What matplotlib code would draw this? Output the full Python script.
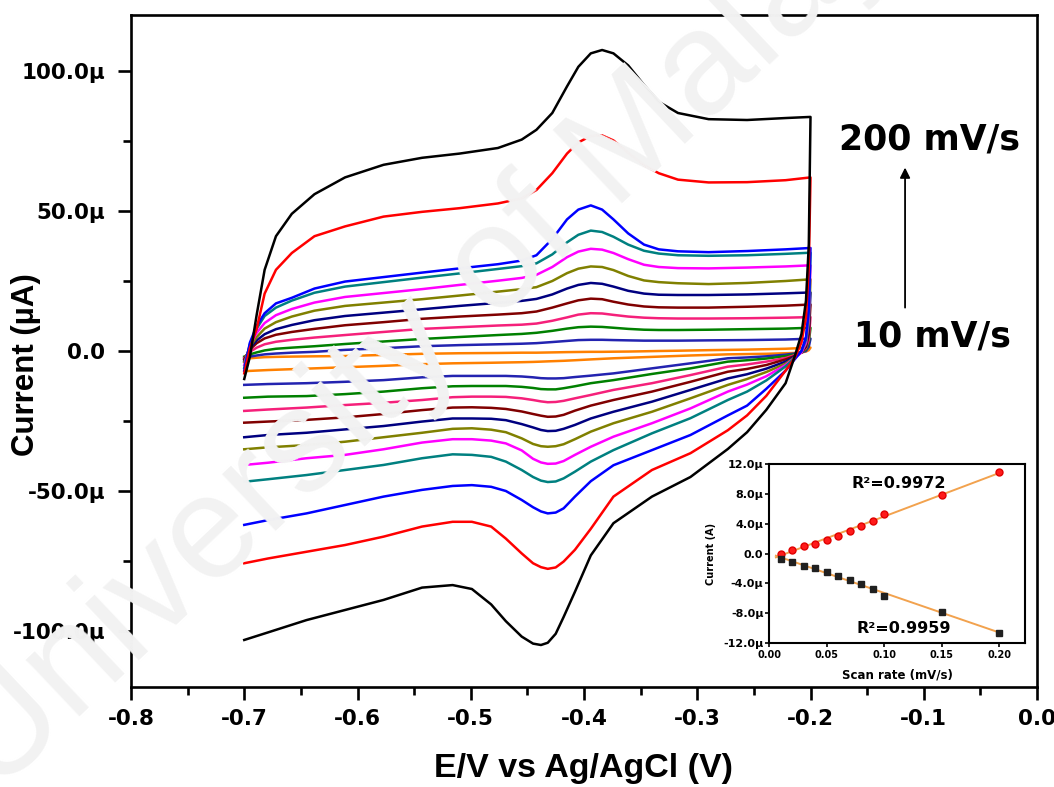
import numpy as np
import matplotlib
matplotlib.use("Agg")
import matplotlib.pyplot as plt
from matplotlib.ticker import MultipleLocator, FuncFormatter, FixedLocator

plt.rcParams["font.family"] = "DejaVu Sans"
plt.rcParams["font.weight"] = "bold"
plt.rcParams["axes.unicode_minus"] = False

# ---- cyclic voltammograms: potential grids (V) and currents (uA) ----
E_FWD = [-0.700, -0.695, -0.689, -0.682, -0.672, -0.658, -0.638, -0.611, -0.577, -0.543,
         -0.510, -0.476, -0.455, -0.442, -0.428, -0.415, -0.405, -0.394, -0.384, -0.374,
         -0.361, -0.347, -0.334, -0.317, -0.290, -0.256, -0.222, -0.200]
E_REV = [-0.200, -0.2015, -0.204, -0.208, -0.214, -0.222, -0.239, -0.256, -0.273, -0.306,
         -0.340, -0.374, -0.394, -0.408, -0.418, -0.425, -0.432, -0.438, -0.445, -0.455,
         -0.469, -0.482, -0.499, -0.516, -0.543, -0.577, -0.611, -0.645, -0.679, -0.700]

fwd_10 = [-3, -2.6, -2.4, -2.2, -2.1, -2.0, -1.9, -1.8, -1.4, -1.0, -0.8, -0.7, -0.6, -0.6,
          -0.5, -0.4, -0.35, -0.3, -0.3, -0.25, -0.2, -0.1, 0.0, 0.1, 0.3, 0.5, 0.8, 1.2]
rev_10 = [1.2, 0.3, -0.2, -0.5, -0.7, -0.8, -1.0, -1.1, -1.2, -1.6, -2.1, -2.6, -3.0, -3.3,
          -3.5, -3.6, -3.7, -3.8, -3.9, -4.0, -4.1, -4.2, -4.3, -4.4, -4.7, -5.3, -5.8, -6.3, -6.8, -7.2]

fwd_20 = [-2.5, -2.0, -1.6, -1.2, -0.9, -0.6, -0.3, 0.4, 1.0, 1.7, 2.1, 2.4, 2.6, 2.8,
          3.2, 3.6, 3.9, 4.0, 4.0, 3.9, 3.8, 3.7, 3.7, 3.7, 3.8, 3.9, 4.1, 4.4]
rev_20 = [4.4, 1.5, 0, -0.5, -0.9, -1.3, -1.9, -2.3, -2.6, -4.4, -6.2, -8, -8.8, -9.3,
          -9.7, -9.8, -9.8, -9.7, -9.4, -9.1, -8.9, -8.9, -8.9, -8.9, -9.4, -10.4, -11, -11.5, -11.8, -12.1]

fwd_30 = [-2, -1.2, -0.5, 0.2, 0.8, 1.2, 1.7, 2.5, 3.4, 4.3, 5.0, 5.7, 6.1, 6.5,
          7.2, 8, 8.5, 8.7, 8.6, 8.3, 7.9, 7.6, 7.5, 7.5, 7.6, 7.8, 8.0, 8.3]
rev_30 = [8.3, 3, 0.5, -0.5, -1.2, -1.8, -2.7, -3.3, -3.8, -6.2, -8.2, -10.4, -11.5, -12.6,
          -13.3, -13.7, -13.7, -13.6, -13.2, -12.8, -12.5, -12.5, -12.5, -12.6, -13.3, -14.5, -15.4, -16.1, -16.3, -16.7]

fwd_40 = [-2.5, -0.3, 1.2, 2.4, 3.3, 4.0, 4.8, 5.7, 6.8, 7.9, 8.5, 9.1, 9.4, 9.8,
          10.8, 12, 13, 13.5, 13.4, 12.9, 12.3, 11.9, 11.7, 11.6, 11.6, 11.7, 11.9, 12.1]
rev_40 = [12.1, 4, 1, -0.5, -1.5, -2.5, -3.8, -4.8, -5.6, -8.6, -11.5, -13.9, -15.7, -16.9,
          -17.8, -18.2, -18.3, -18, -17.5, -16.9, -16.4, -16.3, -16.3, -16.5, -17.5, -18.5, -19.3, -20.2, -20.9, -21.4]

fwd_50 = [-3, 0.5, 2.8, 4.5, 5.8, 6.8, 7.9, 9.2, 10.3, 11.5, 12.3, 13.0, 13.5, 14.1,
          15.5, 17, 18.1, 18.7, 18.5, 17.6, 16.6, 15.9, 15.6, 15.5, 15.5, 15.8, 16.2, 16.6]
rev_50 = [16.6, 6, 1.5, -0.5, -1.8, -3, -5, -6.4, -7.4, -11, -14.5, -17.5, -19.5, -21.3,
          -22.8, -23.4, -23.5, -23.1, -22.5, -21.6, -20.7, -20.3, -20.1, -20.2, -21.1, -22.5, -23.7, -24.6, -25.2, -25.6]

fwd_60 = [-3.5, 1, 3.8, 6, 7.8, 9.3, 11, 12.5, 13.7, 14.9, 16.1, 17.2, 17.9, 18.6,
          20.2, 22.3, 23.6, 24.3, 24, 23, 21.5, 20.5, 20.1, 20, 20, 20.2, 20.6, 20.9]
rev_60 = [20.9, 8, 2, -0.5, -2, -3.8, -6.3, -8.3, -9.8, -13.9, -18.1, -21.7, -24.1, -26.4,
          -27.8, -28.5, -28.6, -28.2, -27.3, -26.1, -24.7, -24.2, -24.1, -24.1, -25.2, -26.8, -28, -29.2, -30, -30.8]

fwd_70 = [-4, 1.5, 5, 8, 10.3, 12.3, 14.4, 16.1, 17.3, 18.5, 19.8, 21.2, 22.1, 22.8,
          25, 27.8, 29.4, 30.2, 30, 28.9, 26.8, 25.2, 24.6, 24.2, 23.9, 24.3, 25, 25.6]
rev_70 = [25.6, 10, 2.5, -0.5, -2.3, -4.5, -7.5, -10, -12.1, -16.9, -21.7, -25.8, -28.8, -31.5,
          -33.3, -34, -34.2, -34, -33.2, -31.2, -29, -28.1, -27.6, -27.8, -29.2, -30.8, -32.4, -33.6, -34.4, -35.1]

fwd_80 = [-5, 2, 6.5, 10, 12.8, 15, 17.3, 19.3, 20.7, 22.1, 23.6, 25.1, 26.1, 27.2,
          30, 33.5, 35.5, 36.5, 36.2, 35, 32.8, 30.8, 30, 29.6, 29.5, 29.8, 30.2, 30.6]
rev_80 = [30.6, 12, 3, -0.5, -2.5, -5, -9, -12, -14.5, -20.5, -25.8, -30.6, -34.2, -37.1,
          -39.3, -40.2, -40.3, -39.8, -38.5, -35.5, -33, -32, -31.5, -31.5, -32.7, -35.1, -37.1, -38.3, -39.9, -40.7]

fwd_90 = [-6, 2.5, 8, 12.5, 15.5, 18, 20.8, 23, 24.6, 26.2, 27.7, 29.3, 30.3, 31.3,
          34.5, 38.8, 41.5, 43, 42.5, 40.8, 38, 35.8, 34.8, 34.2, 34, 34.2, 34.7, 35.1]
rev_90 = [35.1, 14, 4, 0, -2.5, -5.5, -10.5, -14.5, -17.5, -24, -29.4, -35.4, -39.5, -43.1,
          -45.5, -46.6, -46.8, -46.3, -45, -42.5, -39.5, -37.8, -37.1, -36.9, -38.3, -40.7, -42.5, -44.3, -45.8, -46.7]

fwd_100 = [-7, 3, 9, 13.5, 17, 19, 22.3, 24.8, 26.4, 28.0, 29.5, 31.0, 32.3, 34.2,
           40, 47, 50.5, 52, 50.5, 47, 42, 38, 36.3, 35.6, 35.3, 35.7, 36.3, 36.8]
rev_100 = [36.8, 15, 5, 0, -3, -7, -13.5, -19.5, -23, -30, -35.4, -40.8, -46.5, -52,
           -56.2, -57.7, -58, -57.3, -55.8, -53.2, -50, -48.5, -47.9, -48.2, -49.6, -52, -55, -58, -60.4, -62.1]

fwd_150 = [-8, 1, 8, 20.5, 29, 35, 41, 44.5, 48, 49.7, 51, 52.7, 54.5, 57.5,
           63.5, 70.5, 74.5, 76.8, 77, 75.2, 70.8, 66.4, 63.5, 61.2, 60.2, 60.3, 61, 62]
rev_150 = [62, 30, 12, 3, -2.5, -7, -16, -23, -28.3, -36.5, -42.5, -52, -63.5, -71,
           -75.2, -77.3, -77.8, -77.2, -75.8, -72.3, -67, -62.7, -61, -61, -62.7, -66.3, -69.3, -71.7, -74.1, -75.8]

fwd_200 = [-10, -2, 13, 29, 41, 49, 56, 62, 66.5, 69, 70.5, 72.5, 75.5, 79,
           85, 94.5, 101.5, 106.3, 107.5, 106.3, 102, 95, 89, 85, 82.8, 82.5, 83.2, 83.6]
rev_200 = [83.6, 38, 18, 6, -2, -11.5, -21, -29, -35, -45, -52, -61.5, -73, -86,
           -95, -101, -104.2, -105, -104.5, -102, -96.5, -90.5, -85, -83.6, -84.5, -88.9, -92.5, -96.1, -100.5, -103.2]

SCAN_RATES = [10, 20, 30, 40, 50, 60, 70, 80, 90, 100, 150, 200]
COLORS = ["#FF8000", "#2323B0", "#008000", "#F5207A", "#800000", "#000080",
          "#808000", "#FF00FF", "#008080", "#0000FF", "#FF0000", "#000000"]
FORWARD = [fwd_10, fwd_20, fwd_30, fwd_40, fwd_50, fwd_60, fwd_70, fwd_80, fwd_90, fwd_100, fwd_150, fwd_200]
REVERSE = [rev_10, rev_20, rev_30, rev_40, rev_50, rev_60, rev_70, rev_80, rev_90, rev_100, rev_150, rev_200]

# ---- inset: peak currents (uA) vs scan rate (V/s) ----
inset_rate = [0.01, 0.02, 0.03, 0.04, 0.05, 0.06, 0.07, 0.08, 0.09, 0.10, 0.15, 0.20]
ipa = [0.0, 0.49, 0.94, 1.25, 1.84, 2.37, 3.05, 3.72, 4.39, 5.33, 7.79, 10.88]
ipc = [-0.72, -1.16, -1.61, -1.97, -2.42, -2.96, -3.54, -4.12, -4.79, -5.69, -7.88, -10.61]
r2_anodic = "0.9972"
r2_cathodic = "0.9959"

W, H = 1054, 787
fig = plt.figure(figsize=(W / 100, H / 100), dpi=100)

# repository watermark
fig.text(-0.004, -0.012, "University of Malaya", rotation=43.4, rotation_mode="anchor",
         ha="left", va="baseline", fontsize=106, family="Liberation Sans",
         fontweight="normal", color="#F2F2F2", zorder=0)

ax = fig.add_axes([131 / W, 1 - 687 / H, 906 / W, 672 / H])
ax.set_facecolor("none")

for rate, color, fwd, rev in zip(SCAN_RATES, COLORS, FORWARD, REVERSE):
    ax.plot(np.r_[E_FWD, E_REV], np.r_[fwd, rev], color=color, lw=1.8,
            solid_joinstyle="round", zorder=2)

ax.set_xlim(-0.8, 0.0)
ax.set_ylim(-120, 120)
ax.xaxis.set_major_locator(MultipleLocator(0.1))
ax.xaxis.set_minor_locator(MultipleLocator(0.05))
ax.yaxis.set_major_locator(MultipleLocator(50))
ax.yaxis.set_minor_locator(MultipleLocator(25))
ax.xaxis.set_major_formatter(FuncFormatter(lambda v, p: f"{v:.1f}" if abs(v) > 1e-9 else "0.0"))
ax.yaxis.set_major_formatter(FuncFormatter(lambda v, p: "0.0" if abs(v) < 1e-9 else f"{v:.1f}\u00b5"))
for s in ax.spines.values():
    s.set_linewidth(1.9)
ax.tick_params(which="major", direction="out", length=9.5, width=1.9, labelsize=15.5)
ax.tick_params(which="minor", direction="out", length=5.8, width=1.9)
ax.tick_params(axis="y", which="major", pad=9)
ax.tick_params(axis="x", which="major", pad=6)
ax.tick_params(top=False, right=False, which="both")

# scan-rate arrow and labels
ax.annotate("", xy=(-0.1165, 66.5), xytext=(-0.1165, 14.5),
            arrowprops=dict(arrowstyle="-|>", color="black", lw=1.3, mutation_scale=15))
ax.text(-0.0953, 75.7, "200 mV/s", ha="center", va="center", fontsize=25, fontweight="bold")
ax.text(-0.0927, 5.0, "10 mV/s", ha="center", va="center", fontsize=25, fontweight="bold")

fig.text(583 / W, 1 - 768 / H, "E/V vs Ag/AgCl (V)", ha="center", va="center",
         fontsize=24.5, family="Liberation Sans", fontweight="bold")
fig.text(26 / W, 1 - 365 / H, "Current (\u00b5A)", rotation=90, ha="center", va="center",
         fontsize=22.5, family="Liberation Sans", fontweight="bold")

# ---- inset ----
axin = fig.add_axes([769 / W, 1 - 643 / H, 256 / W, 179 / H])
axin.set_facecolor("white")
axin.set_zorder(3)
x_line = np.array([inset_rate[0] - 0.004, inset_rate[-1]])
ka, ba = np.polyfit(inset_rate, ipa, 1)
kc, bc = np.polyfit(inset_rate, ipc, 1)
axin.plot(x_line, ka * x_line + ba, color="#F2A24E", lw=1.4, zorder=2)
axin.plot(x_line, kc * x_line + bc, color="#F2A24E", lw=1.4, zorder=2)
axin.plot(inset_rate, ipa, "o", color="#FF1A1A", ms=5, mec="#E00000", zorder=3)
axin.plot(inset_rate, ipc, "s", color="#202020", ms=4.3, zorder=3)
axin.text(0.113, 9.4, "R\u00b2=" + r2_anodic, ha="center", va="center", fontsize=11.5, fontweight="bold")
axin.text(0.117, -10.0, "R\u00b2=" + r2_cathodic, ha="center", va="center", fontsize=11.5, fontweight="bold")
axin.set_xlim(0.0, 0.2225)
axin.set_ylim(-12, 12)
axin.xaxis.set_major_locator(FixedLocator([0.0, 0.05, 0.10, 0.15, 0.20]))
axin.yaxis.set_major_locator(MultipleLocator(4))
axin.xaxis.set_major_formatter(FuncFormatter(lambda v, p: f"{v:.2f}"))
axin.yaxis.set_major_formatter(FuncFormatter(lambda v, p: "0.0" if abs(v) < 1e-9 else f"{v:.1f}\u00b5"))
for s in axin.spines.values():
    s.set_linewidth(1.5)
axin.tick_params(axis="y", direction="out", length=3, width=1.2, labelsize=8, pad=1)
axin.tick_params(axis="x", direction="out", length=3, width=1.2, labelsize=7, pad=2)
axin.text(-0.227, 0.5, "Current (A)", rotation=90, ha="center", va="center",
          fontsize=7, fontweight="bold", transform=axin.transAxes)
axin.text(0.5, -0.18, "Scan rate (mV/s)", ha="center", va="center",
          fontsize=8.5, fontweight="bold", transform=axin.transAxes)

fig.savefig("out.png", dpi=100)
